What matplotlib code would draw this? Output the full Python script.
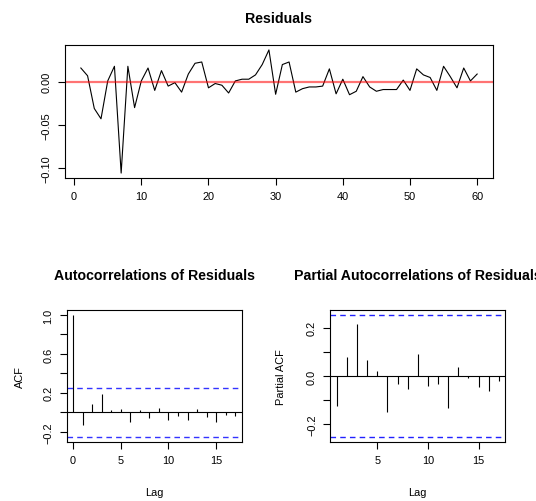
import numpy as np
import matplotlib
matplotlib.use('Agg')
import matplotlib.pyplot as plt

plt.rcParams['font.family'] = ['Liberation Sans', 'DejaVu Sans']

# residuals
t = np.arange(1, 61)
resid = [0.016, 0.007, -0.031, -0.043, 0.001, 0.018, -0.106, 0.018, -0.030, 0.001,
         0.016, -0.010, 0.013, -0.005, -0.001, -0.012, 0.009, 0.0215, 0.023, -0.007,
         -0.002, -0.004, -0.013, 0.001, 0.003, 0.003, 0.008, 0.020, 0.037, -0.0145,
         0.020, 0.023, -0.012, -0.008, -0.006, -0.006, -0.005, 0.015, -0.014, 0.003,
         -0.015, -0.011, 0.006, -0.006, -0.011, -0.009, -0.009, -0.009, 0.002, -0.010,
         0.015, 0.008, 0.005, -0.010, 0.018, 0.006, -0.007, 0.016, 0.001, 0.009]

acf_lags = np.arange(0, 18)
acf_vals = [1.0, -0.127, 0.089, 0.185, 0.020, 0.040, -0.100, 0.027, -0.062, 0.048,
            -0.075, -0.038, -0.082, 0.031, -0.048, -0.096, -0.024, -0.038]

pacf_lags = np.arange(1, 18)
pacf_vals = [-0.124, 0.078, 0.215, 0.067, 0.021, -0.149, -0.032, -0.054, 0.092, -0.040,
             -0.032, -0.132, 0.039, -0.010, -0.045, -0.061, -0.022]

n_obs = 60
clim = 1.96 / np.sqrt(n_obs)

W, H = 536, 502
FS = 7.9      # axis text
FT = 10.2     # titles
fig = plt.figure(figsize=(W / 100, H / 100), dpi=100)

def box(l, r, top, bot):
    return fig.add_axes([l / W, 1 - bot / H, (r - l) / W, (bot - top) / H])

def rlim(lo, hi):
    p = 0.04 * (hi - lo)
    return lo - p, hi + p

def style(ax):
    for s in ax.spines.values():
        s.set_linewidth(0.8)
    ax.tick_params(direction='out', length=5, width=0.8, labelsize=FS, pad=4.5)
    for lab in ax.get_yticklabels():
        lab.set_rotation(90)
        lab.set_va('center')

def title(x, y, s):
    fig.text(x / W, 1 - y / H, s, ha='center', va='center',
             fontsize=FT, fontweight='bold')

# top: residuals
ax1 = box(65, 493, 46, 179)
ax1.plot(t, resid, color='black', lw=0.8)
ax1.axhline(0, color=(1, 0, 0, 0.55), lw=1.6)
ax1.set_xlim(*rlim(min(t), max(t)))
ax1.set_ylim(*rlim(min(resid), max(resid)))
ax1.set_xticks([0, 10, 20, 30, 40, 50, 60])
ax1.set_yticks([-0.10, -0.05, 0.00])
ax1.set_yticklabels(['\u22120.10', '\u22120.05', '0.00'])
style(ax1)
title(279, 19, 'Residuals')

# ACF
ax2 = box(66.7, 241.7, 311, 443)
ax2.vlines(acf_lags, 0, acf_vals, color='black', lw=0.8)
ax2.axhline(0, color='black', lw=0.8)
for c in (clim, -clim):
    ax2.axhline(c, color='#3333ff', lw=1.0, ls=(0, (4, 3)))
ax2.set_xlim(*rlim(min(acf_lags), max(acf_lags)))
ax2.set_ylim(*rlim(min(min(acf_vals), -clim), 1.0))
ax2.set_xticks([0, 5, 10, 15])
ax2.set_yticks([-0.2, 0.0, 0.2, 0.4, 0.6, 0.8, 1.0])
ax2.set_yticklabels(['\u22120.2', '', '0.2', '', '0.6', '', '1.0'])
style(ax2)
ax2.set_xlabel('Lag', fontsize=FS, va='center')
ax2.xaxis.set_label_coords(0.5, -50 / 132)
ax2.set_ylabel('ACF', fontsize=FS, va='center')
ax2.yaxis.set_label_coords(-47 / 175, 0.5)
title(154, 276, 'Autocorrelations of Residuals')

# PACF
ax3 = box(330.3, 505.3, 311, 443)
ax3.vlines(pacf_lags, 0, pacf_vals, color='black', lw=0.8)
ax3.axhline(0, color='black', lw=0.8)
for c in (clim, -clim):
    ax3.axhline(c, color='#2222ff', lw=1.0, ls=(0, (4, 3)))
ax3.set_xlim(*rlim(min(pacf_lags), max(pacf_lags)))
ax3.set_ylim(*rlim(min(min(pacf_vals), -clim), max(max(pacf_vals), clim)))
ax3.set_xticks([5, 10, 15])
ax3.set_yticks([-0.2, -0.1, 0.0, 0.1, 0.2])
ax3.set_yticklabels(['\u22120.2', '', '0.0', '', '0.2'])
style(ax3)
ax3.set_xlabel('Lag', fontsize=FS, va='center')
ax3.xaxis.set_label_coords(0.5, -50 / 132)
ax3.set_ylabel('Partial ACF', fontsize=FS, va='center')
ax3.yaxis.set_label_coords(-49 / 175, 0.5)
title(418, 276, 'Partial Autocorrelations of Residuals')

fig.savefig('out.png', dpi=100)
